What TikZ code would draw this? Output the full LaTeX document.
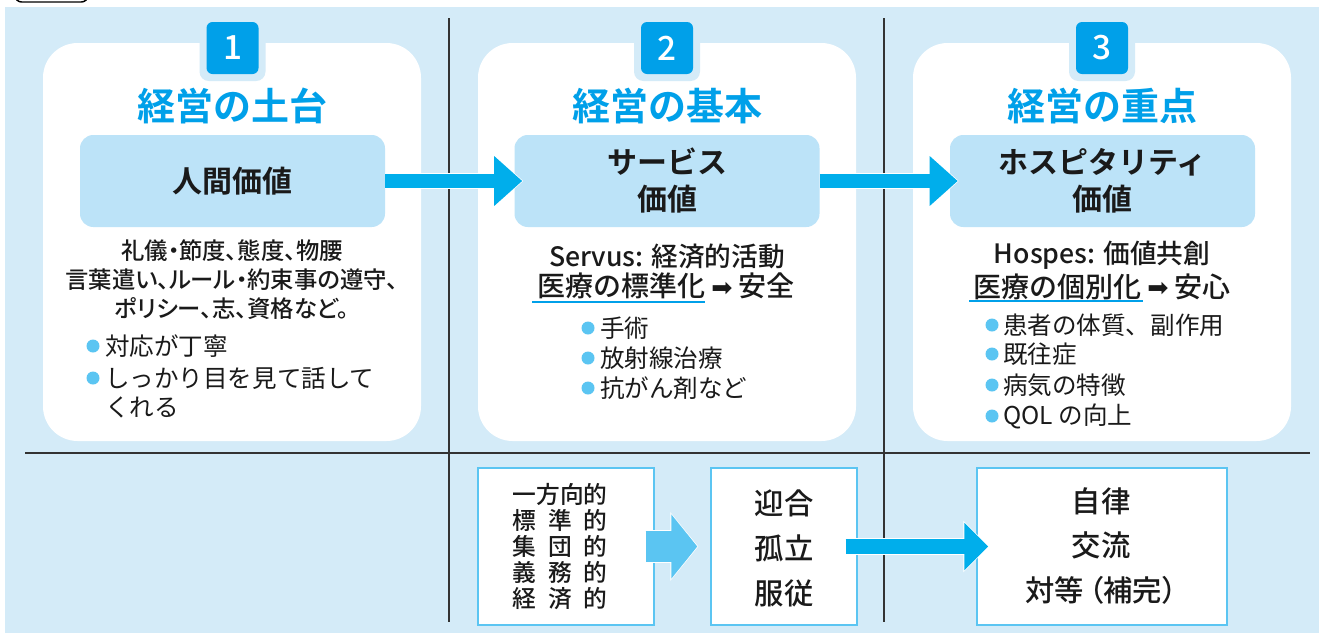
\documentclass[tikz,border=0pt]{standalone}
\usepackage{fontspec}
\setmainfont{Noto Sans CJK JP}
\newfontfamily\jpm{Noto Sans CJK JP Medium}
\newfontfamily\jpmp{Noto Sans CJK JP Medium}[RawFeature=+palt]
\newfontfamily\jpb{Noto Sans CJK JP Bold}
\newfontfamily\dv{DejaVu Sans}
\usetikzlibrary{arrows.meta,calc}
\definecolor{bg}{HTML}{D4EBF8}
\definecolor{boxfill}{HTML}{BCE3F8}
\definecolor{mainblue}{HTML}{00A0E9}
\definecolor{arrowblue}{HTML}{00AEEB}
\definecolor{lightblue}{HTML}{5BC5F2}
\definecolor{ink}{HTML}{1A1A1A}
\newcommand\rarr{{\dv\fontsize{19}{19}\selectfont\raisebox{0.5pt}{➡}}}
\begin{document}
\begin{tikzpicture}[x=0.75pt,y=-0.75pt,
  every node/.style={inner sep=0pt, text=ink},
  panel/.style={fill=white, rounded corners=26pt, minimum width=283.5pt, minimum height=298.5pt},
  halo/.style={fill=bg, rounded corners=7pt, minimum size=49.5pt},
  badge/.style={fill=mainblue, rounded corners=4.5pt, minimum size=39pt, text=white, font=\jpm\fontsize{25}{26}\selectfont},
  ttl/.style={text=mainblue, font=\jpb\fontsize{28.5}{30}\selectfont},
  valbox/.style={fill=boxfill, rounded corners=10pt, minimum width=228.75pt, minimum height=69pt, align=center, font=\jpb\fontsize{22.5}{27.75}\selectfont},
  bodyp/.style={font=\jpmp\fontsize{17.5}{20}\selectfont},
  headA/.style={font=\jpm\fontsize{20}{22}\selectfont},
  headB/.style={font=\jpm\fontsize{21}{23}\selectfont},
  bultext/.style={anchor=west, font=\fontsize{18.4}{22}\selectfont},
  dot/.style={circle, fill=lightblue, minimum size=9.75pt},
  uline/.style={mainblue, line width=1.5pt},
  divider/.style={draw=black!80, line width=0.8pt},
  outbox/.style={draw=lightblue, line width=1.1pt, fill=white, minimum height=117.75pt},
  arrowline/.style={arrowblue, line width=10.5pt, -{Triangle[length=21pt,width=36pt]}},
  arrowhalo/.style={white, line width=12pt, -{Triangle[length=22.5pt,width=39pt]}},
  fatarrow/.style={lightblue, line width=23.25pt, -{Triangle[length=19.5pt,width=47.25pt]}},
  fathalo/.style={white, line width=24.75pt, -{Triangle[length=21pt,width=50.5pt]}},
  lowarrow/.style={arrowblue, line width=11.25pt, -{Triangle[length=18pt,width=34.5pt]}},
  lowhalo/.style={white, line width=12.75pt, -{Triangle[length=19.5pt,width=37.5pt]}}
]
\useasboundingbox (0,0) rectangle (1319,633);
% background
\fill[bg] (5,7) rectangle (1319,633);
\draw[line width=1.1pt, fill=white, rounded corners=5pt] (15,-20) rectangle (88,2);
% dividers
\draw[divider] (449,18) -- (449,622);
\draw[divider] (884,18) -- (884,622);
\draw[divider] (25,453) -- (1310,453);
% panels
\node[panel] (p1) at (232,242) {};
\node[panel] (p2) at (667,242) {};
\node[panel] (p3) at (1102,242) {};
% badges
\node[halo] (h1) at (232.5,48) {};
\node[halo] (h2) at (667,48) {};
\node[halo] (h3) at (1102,48) {};
\node[badge] (n1) at (232.5,48) {1};
\node[badge] (n2) at (667,48) {2};
\node[badge] (n3) at (1102,48) {3};
% titles
\node[ttl] (t1) at (232,106) {経営の土台};
\node[ttl] (t2) at (667,106) {経営の基本};
\node[ttl] (t3) at (1102,106) {経営の重点};
% value boxes
\node[valbox] (b1) at (232.5,181) {人間価値};
\node[valbox] (b2) at (667,181) {サービス\\価値};
\node[valbox] (b3) at (1102.5,181) {ホスピタリティ\\価値};
% arrows between value boxes
\draw[arrowhalo] (b1.east) -- ([xshift=6.8pt]b2.west);
\draw[arrowline] (b1.east) -- ([xshift=6pt]b2.west);
\draw[arrowhalo] (b2.east) -- ([xshift=6.8pt]b3.west);
\draw[arrowline] (b2.east) -- ([xshift=6pt]b3.west);
% panel 1 body
\node[bodyp] (l11) at (232,251) {礼儀・節度、態度、物腰};
\node[bodyp] (l12) at (232,280) {言葉遣い、ルール・約束事の遵守、};
\node[bodyp] (l13) at (232,309) {ポリシー、志、資格など。};
\node[dot] (d11) at (93,346) {};
\node[dot] (d12) at (93,378) {};
\node[bultext] (u11) at (105,346) {対応が丁寧};
\node[bultext] (u12) at (105,378) {しっかり目を見て話して};
\node[bultext] (u13) at (105,407) {くれる};
% panel 2 body
\node[headA] (l21) at (667,256) {Servus: 経済的活動};
\node[headB] (l22) at (666,286) {医療の標準化 \rarr{} 安全};
\draw[uline] (532,302) -- (705,302);
\node[dot] (d21) at (588,328) {};
\node[dot] (d22) at (588,358) {};
\node[dot] (d23) at (588,388) {};
\node[bultext] (u21) at (600,328) {手術};
\node[bultext] (u22) at (600,358) {放射線治療};
\node[bultext] (u23) at (600,388) {抗がん剤など};
% panel 3 body
\node[headA] (l31) at (1102,255) {Hospes: 価値共創};
\node[headB] (l32) at (1102,287) {医療の個別化 \rarr{} 安心};
\draw[uline] (969,301) -- (1143,301);
\node[dot] (d31) at (992,325) {};
\node[dot] (d32) at (992,354) {};
\node[dot] (d33) at (992,385) {};
\node[dot] (d34) at (992,416) {};
\node[bultext] (u31) at (1003,325) {患者の体質、副作用};
\node[bultext] (u32) at (1003,354) {既往症};
\node[bultext] (u33) at (1003,385) {病気の特徴};
\node[bultext] (u34) at (1003,416) {QOL の向上};
% bottom boxes
\node[outbox, minimum width=132pt] (ba) at (566,546.5) {};
\node[outbox, minimum width=109.5pt] (bb) at (784,546.5) {};
\node[outbox, minimum width=187.5pt] (bc) at (1102,546.5) {};
\node[align=center, font=\jpm\fontsize{17.8}{19.5}\selectfont] (ta) at (560,547)
  {一方向的\\
   \makebox[4em][s]{標\hfill 準\hfill 的}\\
   \makebox[4em][s]{集\hfill 団\hfill 的}\\
   \makebox[4em][s]{義\hfill 務\hfill 的}\\
   \makebox[4em][s]{経\hfill 済\hfill 的}};
\node[align=center, font=\jpm\fontsize{22}{33.75}\selectfont] (tb) at (784,548) {迎合\\孤立\\服従};
\node[align=center, font=\jpmp\fontsize{22}{33.5}\selectfont] (tc) at (1101,546) {自律\\交流\\対等\,（補完）};
% bottom arrows
\draw[fathalo] ([xshift=-6.75pt]ba.east) -- ([xshift=-9pt]bb.west);
\draw[fatarrow] ([xshift=-6.75pt]ba.east) -- ([xshift=-9.75pt]bb.west);
\draw[lowhalo] ([xshift=-9pt]bb.east) -- ([xshift=9.8pt]bc.west);
\draw[lowarrow] ([xshift=-9pt]bb.east) -- ([xshift=9pt]bc.west);
\end{tikzpicture}
\end{document}
